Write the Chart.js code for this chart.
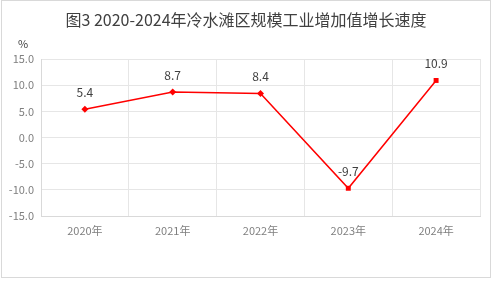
<!DOCTYPE html>
<html>
<head>
<meta charset="utf-8">
<script src="https://cdn.jsdelivr.net/npm/chart.js@4"></script>
<style>
html,body{margin:0;padding:0;background:#fff;}
#wrap{width:493px;height:284px;position:relative;}
</style>
</head>
<body>
<div id="wrap"><canvas id="c" width="493" height="284"></canvas></div>
<script>
const titleText = "图3 2020-2024年冷水滩区规模工业增加值增长速度";
const unitLabel = "%";
const categories = ["2020年", "2021年", "2022年", "2023年", "2024年"];
const growthValues = [5.4, 8.7, 8.4, -9.7, 10.9];
const pointStyles = ["rectRot", "rectRot", "rectRot", "rect", "rect"];
const yTicks = [15, 10, 5, 0, -5, -10, -15];

const FONT = '"Noto Sans CJK SC", "Noto Sans", sans-serif';

const decor = {
  id: 'decor',
  beforeDraw(chart) {
    const ctx = chart.ctx;
    ctx.save();
    ctx.fillStyle = '#fff';
    ctx.fillRect(0, 0, chart.width, chart.height);
    ctx.strokeStyle = '#d9d9d9';
    ctx.lineWidth = 1;
    ctx.strokeRect(1.5, 0.5, 489, 277);
    ctx.restore();
  },
  afterDraw(chart) {
    const ctx = chart.ctx;
    ctx.save();
    ctx.fillStyle = '#404040';
    ctx.textAlign = 'center';
    ctx.textBaseline = 'middle';
    ctx.font = '16px ' + FONT;
    ctx.fillText(titleText, 246, 20);
    ctx.font = '11px ' + FONT;
    ctx.fillText(unitLabel, 23, 44);
    const meta = chart.getDatasetMeta(0);
    ctx.font = '12px ' + FONT;
    ctx.fillStyle = '#404040';
    meta.data.forEach((pt, i) => {
      ctx.fillText(growthValues[i].toFixed(1), pt.x, pt.y - 17);
    });
    ctx.restore();
  }
};

new Chart(document.getElementById('c'), {
  type: 'line',
  data: {
    labels: categories,
    datasets: [{
      data: growthValues,
      borderColor: '#ff0000',
      backgroundColor: '#ff0000',
      borderWidth: 1.5,
      pointStyle: pointStyles,
      pointRadius: 3.5,
      pointBorderWidth: 0,
      tension: 0,
      fill: false
    }]
  },
  options: {
    responsive: false,
    animation: false,
    devicePixelRatio: 1,
    layout: { padding: { top: 59, right: 13, left: 0, bottom: 0 } },
    plugins: { legend: { display: false }, tooltip: { enabled: false }, title: { display: false } },
    scales: {
      x: {
        offset: true,
        grid: { offset: true, color: '#e6e6e6', drawTicks: false, lineWidth: 1 },
        border: { color: '#d9d9d9' },
        ticks: { color: '#7f7f7f', font: { size: 11, family: FONT }, padding: 8, maxRotation: 0 },
        afterFit(s) { s.height = 68; }
      },
      y: {
        min: -15, max: 15,
        afterBuildTicks(s) { s.ticks = yTicks.map(v => ({ value: v })); },
        grid: { color: '#e6e6e6', drawTicks: false },
        border: { color: '#d9d9d9' },
        ticks: { color: '#7f7f7f', font: { size: 11, family: FONT }, padding: 7,
          callback: v => v.toFixed(1) },
        afterFit(s) { s.width = 41; }
      }
    }
  },
  plugins: [decor]
});
</script>
</body>
</html>
